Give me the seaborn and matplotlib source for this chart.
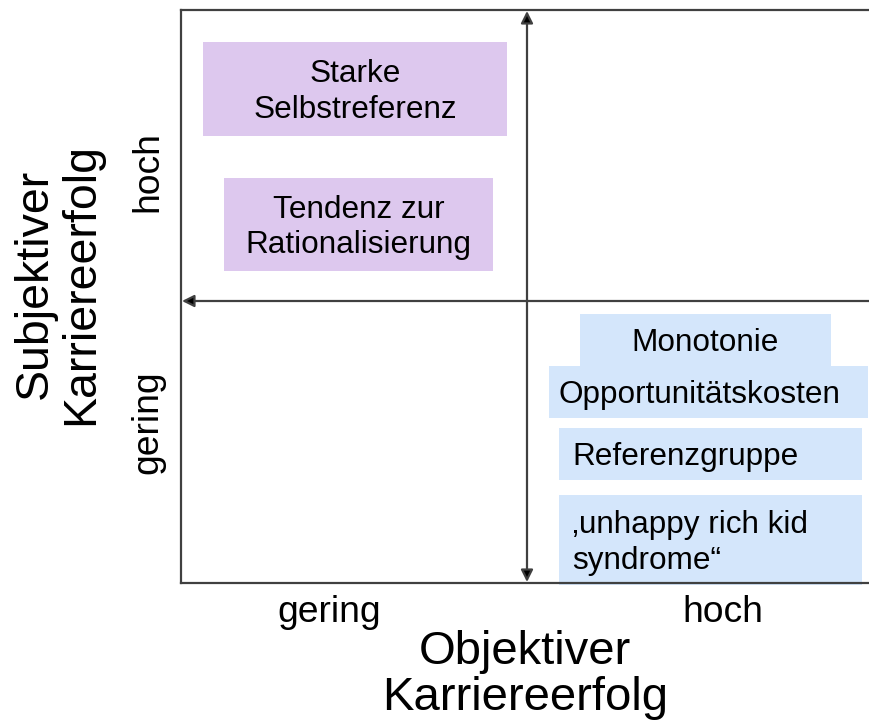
import matplotlib
matplotlib.use("Agg")
import matplotlib.pyplot as plt
import seaborn as sns

sns.set_theme(style="white")
plt.rcParams["font.family"] = ["Liberation Sans", "DejaVu Sans"]
plt.rcParams["text.color"] = "black"

# ---- data ----
x_levels = ["gering", "hoch"]
y_levels = ["gering", "hoch"]
x_title = "Objektiver\nKarriereerfolg"
y_title = "Subjektiver\nKarriereerfolg"

purple_labels = ["Starke\nSelbstreferenz", "Tendenz zur\nRationalisierung"]
purple_left = [203, 224]
purple_right = [507, 493]
purple_top = [42, 178]
purple_bottom = [136, 271]

blue_labels = ["Monotonie", "Opportunitätskosten", "Referenzgruppe",
               "\u201aunhappy rich kid\nsyndrome\u201c"]
blue_left = [580, 549, 559, 559]
blue_right = [831, 868, 862, 862]
blue_top = [314, 366, 428, 495]
blue_bottom = [366, 418, 480, 585]
blue_align = ["center", "left", "left", "left"]

W, H = 869, 720
fig = plt.figure(figsize=(W / 100, H / 100), dpi=100)
X0, X1, Y0, Y1 = 181, 885, 10, 583
XM, YM = 527, 301
ax = fig.add_axes([X0 / W, 1 - Y1 / H, (X1 - X0) / W, (Y1 - Y0) / H])
ax.set_xlim(X0, X1)
ax.set_ylim(Y1, Y0)
ax.set_xticks([])
ax.set_yticks([])
ax.set_facecolor("white")
for s in ["left", "top", "bottom"]:
    ax.spines[s].set_color("#404040")
    ax.spines[s].set_linewidth(1.6)
ax.spines["right"].set_visible(False)

PURPLE = "#DDC8EE"
BLUE = "#D4E6FB"
FS = 22.7
DY = 3

ax.bar(purple_left, [b - t for t, b in zip(purple_top, purple_bottom)],
       width=[r - l for l, r in zip(purple_left, purple_right)],
       bottom=purple_top, align="edge", color=PURPLE, linewidth=0, zorder=2)
for lab, l, r, t, b in zip(purple_labels, purple_left, purple_right, purple_top, purple_bottom):
    ax.text((l + r) / 2, (t + b) / 2 + DY, lab, ha="center", va="center",
            fontsize=FS, linespacing=1.24, zorder=3, color="black")

ax.bar(blue_left, [b - t for t, b in zip(blue_top, blue_bottom)],
       width=[r - l for l, r in zip(blue_left, blue_right)],
       bottom=blue_top, align="edge", color=BLUE, linewidth=0, zorder=2, clip_on=False)
for lab, l, r, t, b, al in zip(blue_labels, blue_left, blue_right, blue_top, blue_bottom, blue_align):
    if al == "center":
        xx = (l + r) / 2
    else:
        xx = l + 13 if l > 555 else l + 9
    ax.text(xx, (t + b) / 2 + DY, lab, ha=al, va="center",
            fontsize=FS, linespacing=1.24, zorder=3, color="black")

# horizontal arrow (head at left)
ax.annotate("", xy=(X0 + 1, YM), xytext=(X1, YM),
            arrowprops=dict(arrowstyle="-|>,head_length=0.6,head_width=0.3",
                            color="#404040", lw=1.6, shrinkA=0, shrinkB=0,
                            fc="black", ec="#404040"), zorder=4, annotation_clip=False)
# vertical double arrow
ax.annotate("", xy=(XM, Y0 + 1), xytext=(XM, Y1 - 1),
            arrowprops=dict(arrowstyle="<|-|>,head_length=0.6,head_width=0.3",
                            color="#404040", lw=1.6, shrinkA=0, shrinkB=0,
                            fc="black", ec="#404040"), zorder=4)

def ftext(x, y, s, **kw):
    fig.text(x / W, 1 - y / H, s, color="black", **kw)

ftext(329, 613, x_levels[0], ha="center", va="center", fontsize=26.8)
ftext(723, 613, x_levels[1], ha="center", va="center", fontsize=26.8)
ftext(525, 675, x_title, ha="center", va="center", fontsize=34, linespacing=1.08)
ftext(148, 422, y_levels[0], ha="center", va="center", fontsize=26.8, rotation=90)
ftext(148, 172, y_levels[1], ha="center", va="center", fontsize=26.8, rotation=90)
ftext(58, 284, y_title, ha="center", va="center", fontsize=33.5, rotation=90, linespacing=1.08)

fig.savefig("out.png", dpi=100)
